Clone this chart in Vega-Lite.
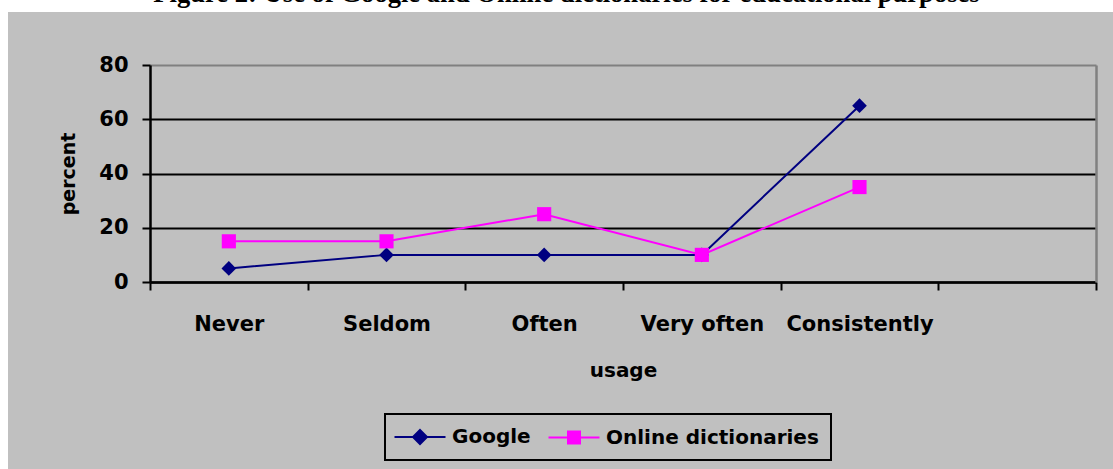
{
  "$schema": "https://vega.github.io/schema/vega-lite/v6.json",
  "width": 1105,
  "height": 457,
  "autosize": {"type": "none"},
  "padding": {"left": 8, "top": 12, "right": 0, "bottom": 0},
  "background": "white",
  "view": {"fill": "#C0C0C0", "stroke": null},
  "title": {
    "text": "Figure 2: Use of Google and Online dictionaries for educational purposes",
    "font": "Liberation Serif",
    "fontSize": 26.6,
    "fontWeight": "bold",
    "color": "black",
    "anchor": "middle",
    "frame": "group",
    "baseline": "alphabetic",
    "offset": 0,
    "dy": 17,
    "dx": 6
  },
  "data": {
    "values": [
      {"usage": "Never", "series": "Google", "percent": 5},
      {"usage": "Seldom", "series": "Google", "percent": 10},
      {"usage": "Often", "series": "Google", "percent": 10},
      {"usage": "Very often", "series": "Google", "percent": 10},
      {"usage": "Consistently", "series": "Google", "percent": 65},
      {"usage": "Never", "series": "Online dictionaries", "percent": 15},
      {"usage": "Seldom", "series": "Online dictionaries", "percent": 15},
      {"usage": "Often", "series": "Online dictionaries", "percent": 25},
      {"usage": "Very often", "series": "Online dictionaries", "percent": 10},
      {"usage": "Consistently", "series": "Online dictionaries", "percent": 35}
    ]
  },
  "layer": [
    {
      "mark": {"type": "line", "strokeWidth": 2},
      "encoding": {
        "x": {
          "field": "usage",
          "type": "nominal",
          "bandPosition": 0.5,
          "scale": {
            "type": "band",
            "domain": ["Never", "Seldom", "Often", "Very often", "Consistently", ""],
            "range": [142, 1088],
            "paddingInner": 0,
            "paddingOuter": 0
          },
          "axis": {
            "orient": "bottom",
            "offset": -187,
            "tickBand": "extent",
            "domainColor": "black",
            "domainWidth": 2.5,
            "tickColor": "black",
            "tickWidth": 2,
            "tickSize": 8,
            "grid": false,
            "labelFont": "DejaVu Sans",
            "labelFontWeight": "bold",
            "labelFontSize": 21,
            "labelColor": "black",
            "labelPadding": 23,
            "labelAngle": 0,
            "title": "usage",
            "titleFont": "DejaVu Sans",
            "titleFontWeight": "bold",
            "titleFontSize": 20,
            "titleColor": "black",
            "titleBaseline": "alphabetic",
            "titleY": 94
          }
        },
        "y": {
          "field": "percent",
          "type": "quantitative",
          "scale": {"domain": [0, 80], "range": [270, 53], "nice": false, "zero": true},
          "axis": {
            "orient": "left",
            "offset": -142,
            "values": [0, 20, 40, 60, 80],
            "domainColor": "black",
            "domainWidth": 2.5,
            "tickColor": "black",
            "tickWidth": 2,
            "tickSize": 8,
            "grid": true,
            "gridWidth": 2,
            "gridColor": {"condition": {"test": "datum.value === 80", "value": "#808080"}, "value": "black"},
            "labelFont": "DejaVu Sans",
            "labelFontWeight": "bold",
            "labelFontSize": 21,
            "labelColor": "black",
            "labelPadding": 14,
            "title": "percent",
            "titleFont": "DejaVu Sans",
            "titleFontWeight": "bold",
            "titleFontSize": 19,
            "titleColor": "black",
            "titleBaseline": "alphabetic",
            "titleX": -76
          }
        },
        "color": {
          "field": "series",
          "type": "nominal",
          "scale": {"domain": ["Google", "Online dictionaries"], "range": ["#000080", "#FF00FF"]},
          "legend": {
            "orient": "none",
            "legendX": 377,
            "legendY": 402,
            "direction": "horizontal",
            "title": null,
            "labelFont": "DejaVu Sans",
            "labelFontWeight": "bold",
            "labelFontSize": 20,
            "labelColor": "black",
            "labelLimit": 400,
            "labelOffset": 21,
            "symbolOffset": 12,
            "columnPadding": 13,
            "padding": 12,
            "symbolSize": 400,
            "symbolStrokeWidth": 2,
            "strokeColor": "black",
            "fillColor": "#C0C0C0",
            "encode": {
              "symbols": {
                "update": {
                  "shape": {"signal": "datum.value === 'Google' ? 'M-2.55,0H2.55M0,-0.7L0.7,0L0,0.7L-0.7,0Z' : 'M-2.55,0H2.55M-0.6,-0.6H0.6V0.6H-0.6Z'"},
                  "fill": {"signal": "datum.value === 'Google' ? '#000080' : '#FF00FF'"},
                  "stroke": {"signal": "datum.value === 'Google' ? '#000080' : '#FF00FF'"},
                  "strokeWidth": {"value": 2},
                  "opacity": {"value": 1}
                }
              },
              "legend": {
                "update": {"strokeWidth": {"value": 2}}
              }
            }
          }
        }
      }
    },
    {
      "transform": [{"filter": "datum.series === 'Google'"}],
      "mark": {"type": "point", "filled": true, "opacity": 1, "size": 215, "shape": "diamond"},
      "encoding": {
        "x": {
          "field": "usage",
          "type": "nominal",
          "bandPosition": 0.5,
          "scale": {
            "type": "band",
            "domain": ["Never", "Seldom", "Often", "Very often", "Consistently", ""],
            "range": [142, 1088],
            "paddingInner": 0,
            "paddingOuter": 0
          }
        },
        "y": {
          "field": "percent",
          "type": "quantitative",
          "scale": {"domain": [0, 80], "range": [270, 53], "nice": false, "zero": true},
          "axis": {
            "orient": "right",
            "offset": -17,
            "domainColor": "#808080",
            "domainWidth": 2.5,
            "ticks": false,
            "labels": false,
            "grid": false,
            "title": null
          }
        },
        "color": {"field": "series", "type": "nominal", "legend": null}
      }
    },
    {
      "transform": [{"filter": "datum.series === 'Online dictionaries'"}],
      "mark": {"type": "point", "filled": true, "opacity": 1, "size": 200, "shape": "square"},
      "encoding": {
        "x": {
          "field": "usage",
          "type": "nominal",
          "bandPosition": 0.5,
          "scale": {
            "type": "band",
            "domain": ["Never", "Seldom", "Often", "Very often", "Consistently", ""],
            "range": [142, 1088],
            "paddingInner": 0,
            "paddingOuter": 0
          }
        },
        "y": {
          "field": "percent",
          "type": "quantitative",
          "scale": {"domain": [0, 80], "range": [270, 53], "nice": false, "zero": true},
          "axis": null
        },
        "color": {"field": "series", "type": "nominal", "legend": null}
      }
    }
  ],
  "resolve": {"axis": {"y": "independent"}}
}
